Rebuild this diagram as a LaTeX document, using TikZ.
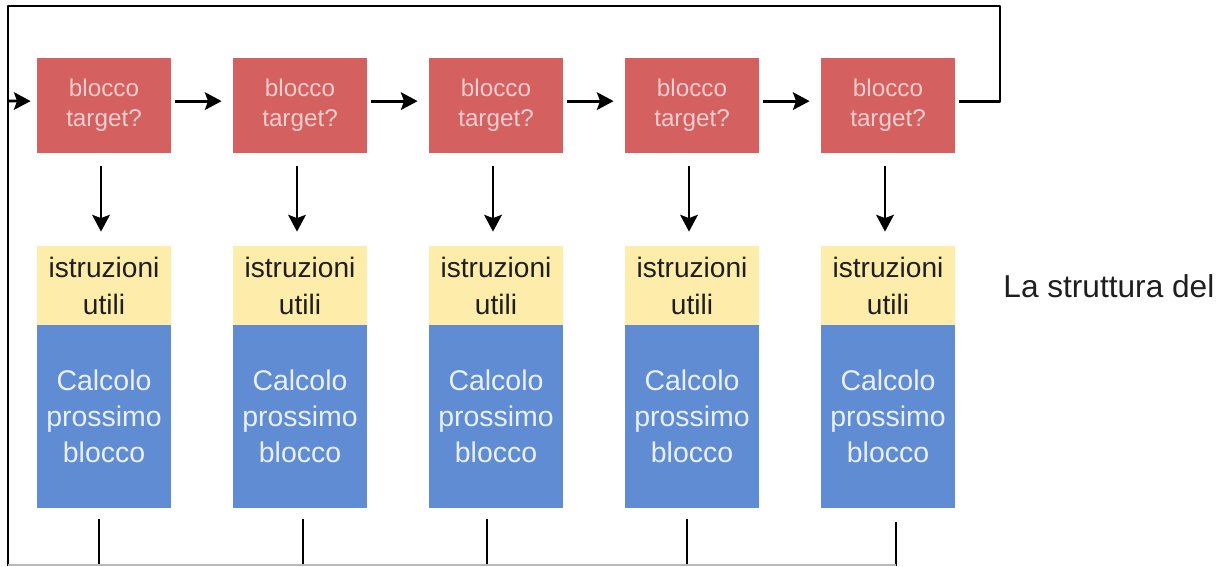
\documentclass[tikz,border=0pt]{standalone}
\usepackage{fontspec}
\setmainfont{Liberation Sans}
\usetikzlibrary{arrows.meta}

\definecolor{rossoblocco}{RGB}{212,96,96}
\definecolor{giallo}{RGB}{254,236,170}
\definecolor{blu}{RGB}{95,140,211}
\definecolor{testorosso}{RGB}{244,206,206}
\definecolor{testoblu}{RGB}{234,240,250}
\definecolor{testonero}{RGB}{30,30,30}

\tikzset{
	target/.style={fill=rossoblocco, text=testorosso, minimum width=2.68cm, minimum height=1.9cm,
		inner sep=0pt, align=center, font=\fontsize{13.8}{17}\selectfont},
	utili/.style={fill=giallo, text=testonero, minimum width=2.68cm, minimum height=1.58cm,
		inner sep=0pt, align=center, font=\fontsize{16}{21}\selectfont},
	calcolo/.style={fill=blu, text=testoblu, minimum width=2.68cm, minimum height=3.66cm,
		inner sep=0pt, align=center, font=\fontsize{16.2}{20.5}\selectfont},
	freccia/.style={-{Stealth[length=9.5pt, width=10pt, inset=1.8pt]}},
}

\begin{document}
\begin{tikzpicture}[x=0.02cm, y=-0.02cm, line width=1.6pt, line join=round]
	\useasboundingbox (0,0) rectangle (1219,566);
	\coordinate (ne) at (1000,6);
	\coordinate (sw) at (8,566);
	\coordinate (entry) at (8,101);

	% COLONNA 1
	\begin{scope}[shift={(0,0)}]
		\node[target] (r1) at (104,105.5) {blocco\\target?};
		\node[utili] (u1) at (104,285.5) {istruzioni\\utili};
		\node[calcolo] (c1) at (104,416.5) {Calcolo\\prossimo\\blocco};
		\draw ([shift={(-5,10)}]c1.south) coordinate (t1) -- (t1 |- sw);
	\end{scope}

	% COLONNA 2
	\begin{scope}[shift={(196,0)}]
		\node[target] (r2) at (104,105.5) {blocco\\target?};
		\node[utili] (u2) at (104,285.5) {istruzioni\\utili};
		\node[calcolo] (c2) at (104,416.5) {Calcolo\\prossimo\\blocco};
		\draw ([shift={(3,10)}]c2.south) coordinate (t2) -- (t2 |- sw);
	\end{scope}

	% COLONNA 3
	\begin{scope}[shift={(392,0)}]
		\node[target] (r3) at (104,105.5) {blocco\\target?};
		\node[utili] (u3) at (104,285.5) {istruzioni\\utili};
		\node[calcolo] (c3) at (104,416.5) {Calcolo\\prossimo\\blocco};
		\draw ([shift={(-9,10)}]c3.south) coordinate (t3) -- (t3 |- sw);
	\end{scope}

	% COLONNA 4
	\begin{scope}[shift={(588,0)}]
		\node[target] (r4) at (104,105.5) {blocco\\target?};
		\node[utili] (u4) at (104,285.5) {istruzioni\\utili};
		\node[calcolo] (c4) at (104,416.5) {Calcolo\\prossimo\\blocco};
		\draw ([shift={(-5,10)}]c4.south) coordinate (t4) -- (t4 |- sw);
	\end{scope}

	% COLONNA 5
	\begin{scope}[shift={(784,0)}]
		\node[target] (r5) at (104,105.5) {blocco\\target?};
		\node[utili] (u5) at (104,285.5) {istruzioni\\utili};
		\node[calcolo] (c5) at (104,416.5) {Calcolo\\prossimo\\blocco};
		\draw ([shift={(8,13)}]c5.south) coordinate (t5) -- (t5 |- sw);
	\end{scope}

	% frecce tra i blocchi target
	\draw[freccia, shorten <=0.06cm, shorten >=0.2cm] ([yshift=2.5pt]r1.east) -- ([yshift=2.5pt]r2.west);
	\draw[freccia, shorten <=0.06cm, shorten >=0.2cm] ([yshift=2.5pt]r2.east) -- ([yshift=2.5pt]r3.west);
	\draw[freccia, shorten <=0.06cm, shorten >=0.2cm] ([yshift=2.5pt]r3.east) -- ([yshift=2.5pt]r4.west);
	\draw[freccia, shorten <=0.06cm, shorten >=0.2cm] ([yshift=2.5pt]r4.east) -- ([yshift=2.5pt]r5.west);

	% frecce verso le istruzioni utili
	\draw[freccia, shorten <=0.24cm, shorten >=0.26cm] ([xshift=-1.7pt]r1.south) -- ([xshift=-1.7pt]u1.north);
	\draw[freccia, shorten <=0.24cm, shorten >=0.26cm] ([xshift=-1.7pt]r2.south) -- ([xshift=-1.7pt]u2.north);
	\draw[freccia, shorten <=0.24cm, shorten >=0.26cm] ([xshift=-1.7pt]r3.south) -- ([xshift=-1.7pt]u3.north);
	\draw[freccia, shorten <=0.24cm, shorten >=0.26cm] ([xshift=-1.7pt]r4.south) -- ([xshift=-1.7pt]u4.north);
	\draw[freccia, shorten <=0.24cm, shorten >=0.26cm] ([xshift=-1.7pt]r5.south) -- ([xshift=-1.7pt]u5.north);

	% ciclo di ritorno
	\draw[shorten <=0.06cm] ([yshift=2.5pt]r5.east) -| (ne) -| (sw);
	\draw[freccia, shorten >=0.1cm] (entry) -- ([yshift=2.5pt]r1.west);

	% linea grigia in basso
	\draw[gray!55, line width=0.6pt] ([shift={(0,-1)}]sw) -- ([shift={(0,-1)}]t5 |- sw);

	\node[anchor=base west, text=testonero, font=\fontsize{18}{21}\selectfont, inner sep=0pt] (titolo) at (1002,297) {La struttura del};
\end{tikzpicture}
\end{document}
